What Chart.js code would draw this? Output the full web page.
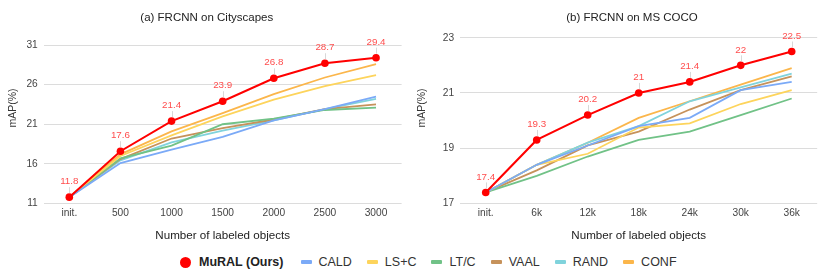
<!DOCTYPE html>
<html><head><meta charset="utf-8">
<script src="https://cdn.jsdelivr.net/npm/chart.js@4.4.1/dist/chart.umd.min.js"></script>
<style>
body{margin:0;background:#fff;width:830px;height:278px;overflow:hidden;position:relative;font-family:"Liberation Sans",Arial,sans-serif;}
canvas{position:absolute;top:0;}
#legend{position:absolute;top:254px;left:180px;display:flex;align-items:center;font-size:12.5px;color:#333;white-space:nowrap;height:16px;}
.it{display:flex;align-items:center;margin-right:15px;}
.mk{width:11px;height:4px;margin-right:7px;border-radius:1px;}
.dot{width:11px;height:11px;border-radius:50%;background:#ff0000;margin-right:8px;margin-left:0;}
.b{font-weight:bold;color:#222;}
</style>
</head><body>
<canvas id="c1" width="415" height="250" style="left:0"></canvas>
<canvas id="c2" width="415" height="250" style="left:415px"></canvas>
<div id="legend"></div>
<script>
const seriesNames = ['MuRAL (Ours)','CALD','LS+C','LT/C','VAAL','RAND','CONF'];
const seriesColors = ['#ff0000','#7baaf7','#fdd45c','#71c287','#c6925b','#80d3dc','#fbb64b'];

const cityLabels = ['init.','500','1000','1500','2000','2500','3000'];
const cityMuRAL = [11.8,17.6,21.4,23.9,26.8,28.7,29.4];
const cityCALD  = [11.8,16.1,17.8,19.4,21.5,22.9,24.5];
const cityLSC   = [11.8,17.0,19.6,22.0,24.1,25.8,27.2];
const cityLTC   = [11.8,16.7,18.3,21.0,21.7,22.8,23.1];
const cityVAAL  = [11.8,16.6,19.2,20.5,21.6,22.9,23.5];
const cityRAND  = [11.8,16.45,18.7,20.2,21.5,22.9,24.2];
const cityCONF  = [11.8,17.2,20.1,22.4,24.8,26.9,28.6];

const cocoLabels = ['init.','6k','12k','18k','24k','30k','36k'];
const cocoMuRAL = [17.4,19.3,20.2,21,21.4,22,22.5];
const cocoCALD  = [17.4,18.4,19.1,19.8,20.1,21.1,21.4];
const cocoLSC   = [17.4,18.4,18.8,19.75,19.9,20.6,21.1];
const cocoLTC   = [17.4,18.0,18.7,19.3,19.6,20.2,20.8];
const cocoVAAL  = [17.4,18.2,19.1,19.6,20.4,21.1,21.6];
const cocoRAND  = [17.4,18.4,19.2,19.8,20.7,21.2,21.7];
const cocoCONF  = [17.4,18.4,19.2,20.1,20.7,21.3,21.9];

const cityTicks = [11,16,21,26,31];
const cocoTicks = [17,19,21,23];

const FONT = '"Liberation Sans", Arial, sans-serif';

const labelPlugin = {
  id:'murLabels',
  afterDatasetsDraw(chart){
    const ctx = chart.ctx;
    const meta = chart.getDatasetMeta(0);
    const data = chart.data.datasets[0].data;
    ctx.save();
    meta.data.forEach((pt,i)=>{
      ctx.strokeStyle='rgba(200,200,200,0.7)';
      ctx.lineWidth=1;
      ctx.beginPath();
      ctx.moveTo(Math.round(pt.x)+0.5, pt.y-4);
      ctx.lineTo(Math.round(pt.x)+0.5, pt.y-10);
      ctx.stroke();
      ctx.fillStyle='#ff4d4d';
      ctx.font='9.8px '+FONT;
      ctx.textAlign='center';
      ctx.textBaseline='middle';
      ctx.fillText(String(data[i]), pt.x, pt.y-15.5);
    });
    ctx.restore();
  }
};
const yTitlePlugin = {
  id:'yTitle',
  afterDraw(chart, args, opts){
    const ctx = chart.ctx;
    ctx.save();
    ctx.translate(opts.x, opts.y);
    ctx.rotate(-Math.PI/2);
    ctx.fillStyle='#333';
    ctx.font='10.5px '+FONT;
    ctx.textAlign='center';
    ctx.textBaseline='middle';
    ctx.fillText(opts.text,0,0);
    ctx.restore();
  }
};

function makeChart(id, title, labels, series, ticks, cfg){
  const datasets = series.map((d,i)=>({
    label: seriesNames[i],
    data: d,
    borderColor: seriesColors[i],
    backgroundColor: seriesColors[i],
    borderWidth: i===0 ? 2 : 1.8,
    pointRadius: i===0 ? 3.8 : 0,
    pointHoverRadius: 0,
    pointBorderWidth: 0,
    tension: 0,
    fill: false
  }));
  return new Chart(document.getElementById(id), {
    type:'line',
    data:{labels, datasets},
    options:{
      responsive:false,
      animation:false,
      events:[],
      layout:{padding:{left:cfg.padL,right:cfg.padR,top:0,bottom:0}},
      plugins:{
        legend:{display:false},
        tooltip:{enabled:false},
        title:{display:true,text:title,color:'#222',font:{family:FONT,size:11.5,weight:'normal'},padding:{top:11.1,bottom:cfg.titleBottom}},
        yTitle:{text:'mAP(%)',x:cfg.yTitleX,y:108}
      },
      scales:{
        x:{
          offset:true,
          grid:{display:false,drawTicks:false},
          border:{display:false},
          ticks:{color:'#444',font:{family:FONT,size:10.2},padding:4,maxRotation:0,autoSkip:false},
          title:{display:true,text:'Number of labeled objects',color:'#222',font:{family:FONT,size:11.6},padding:{top:0,bottom:7.1}},
          afterFit(s){s.height=46.5;}
        },
        y:{
          min:ticks[0],max:ticks[ticks.length-1],
          afterBuildTicks(s){s.ticks=ticks.map(v=>({value:v}));},
          grid:{color:'#dcdcdc',lineWidth:1,drawTicks:false},
          border:{display:false},
          ticks:{color:'#444',font:{family:FONT,size:10.2},padding:6},
          afterFit(s){s.width=cfg.yW;}
        },
        y2:{
          position:'right',display:true,
          grid:{display:false,drawTicks:false},
          border:{display:false},
          ticks:{display:false},
          afterFit(s){s.width=cfg.y2W;}
        }
      }
    },
    plugins:[labelPlugin,yTitlePlugin]
  });
}

makeChart('c1','(a) FRCNN on Cityscapes',cityLabels,
  [cityMuRAL,cityCALD,cityLSC,cityLTC,cityVAAL,cityRAND,cityCONF],cityTicks,
  {padL:0,padR:1.4,yW:43.75,y2W:12,titleBottom:20.1,yTitleX:13});
makeChart('c2','(b) FRCNN on MS COCO',cocoLabels,
  [cocoMuRAL,cocoCALD,cocoLSC,cocoLTC,cocoVAAL,cocoRAND,cocoCONF],cocoTicks,
  {padL:19,padR:0,yW:26.2,y2W:12.8,titleBottom:12.8,yTitleX:7});

const lg = document.getElementById('legend');
seriesNames.forEach((n,i)=>{
  const it=document.createElement('div');it.className='it';
  if(i===0){it.style.marginRight='17px';}
  const mk=document.createElement('span');
  mk.className = i===0 ? 'dot' : 'mk';
  if(i>0) mk.style.background=seriesColors[i];
  const tx=document.createElement('span');tx.textContent=n;
  if(i===0) tx.className='b';
  it.appendChild(mk);it.appendChild(tx);lg.appendChild(it);
});
</script>
</body></html>
